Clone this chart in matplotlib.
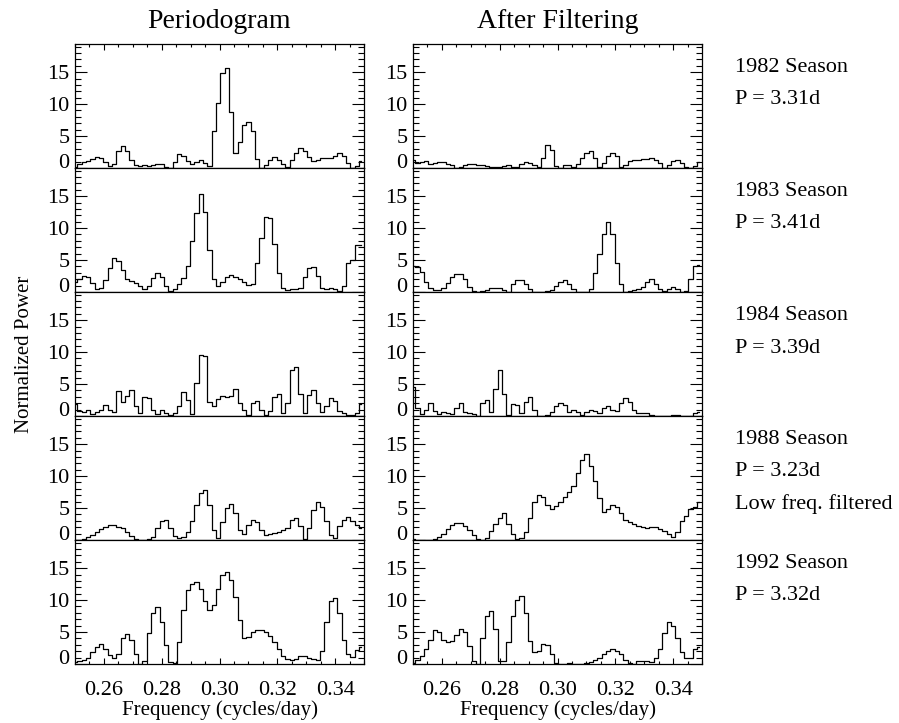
import matplotlib.pyplot as plt
import numpy as np
from matplotlib.ticker import MultipleLocator

plt.rcParams['font.family'] = ['Liberation Serif', 'DejaVu Serif']

# frequency grid of the periodograms (cycles/day)
freq = np.linspace(0.25, 0.349, 67)

# normalized power
p1982 = [0.2, 0.6, 0.9, 1.1, 1.4, 1.7, 1.6, 1.0, 0.3, 0.7, 2.6, 3.4, 2.7, 1.2, 0.5, 0.3, 0.4, 0.3, 0.5, 0.7,
         0.6, 0.2, 0.0, 0.9, 2.2, 1.9, 1.1, 0.7, 1.0, 1.3, 0.8, 0.3, 5.8, 10.2, 14.8, 15.7, 8.7, 2.3, 4.0, 6.8,
         7.2, 5.8, 1.4, 0.0, 0.4, 1.2, 1.7, 1.3, 0.7, 0.2, 1.2, 2.4, 3.1, 2.6, 1.7, 1.1, 1.2, 1.5, 1.6, 1.6,
         1.8, 2.3, 1.9, 0.8, 0.0, 0.3, 1.1]
p1983 = [1.6, 2.0, 2.5, 2.3, 1.4, 0.5, 0.6, 1.8, 3.8, 5.3, 4.8, 3.5, 2.0, 1.7, 1.4, 1.0, 0.5, 1.0, 2.2, 2.9,
         2.3, 1.0, 0.1, 0.4, 1.2, 2.2, 4.0, 8.0, 12.3, 15.3, 12.5, 6.5, 2.0, 0.9, 1.5, 2.4, 2.6, 2.3, 2.0, 1.6,
         1.1, 1.2, 4.5, 8.5, 11.8, 11.5, 7.5, 3.0, 0.6, 0.3, 0.4, 0.4, 0.6, 2.3, 3.8, 3.9, 2.5, 0.6, 0.4, 0.7,
         0.5, 0.2, 1.0, 4.5, 5.0, 7.3, 7.3]
p1984 = [1.8, 0.8, 0.7, 0.9, 0.3, 0.6, 1.0, 1.7, 1.0, 0.7, 3.9, 2.2, 3.2, 4.1, 1.5, 0.4, 3.0, 2.8, 1.0, 0.3,
         0.9, 0.4, 0.2, 0.4, 1.5, 3.8, 2.5, 0.3, 5.1, 9.6, 9.4, 2.2, 1.5, 2.7, 3.2, 3.0, 3.1, 4.2, 2.0, 0.9,
         0.2, 2.0, 2.4, 1.0, 0.2, 0.8, 3.0, 3.4, 0.4, 2.0, 7.2, 7.7, 3.5, 0.5, 3.3, 4.0, 2.0, 0.7, 1.6, 2.8,
         2.4, 0.8, 0.4, 0.2, 0.2, 0.5, 1.8]
p1988 = [0.0, 0.0, 0.1, 0.5, 0.8, 1.3, 1.7, 2.1, 2.3, 2.3, 2.1, 1.8, 1.2, 0.6, 0.1, 0.0, 0.0, 0.1, 0.5, 1.8,
         3.0, 3.2, 1.8, 0.7, 0.3, 0.4, 1.2, 3.0, 5.5, 7.3, 7.8, 5.5, 1.5, 0.3, 2.8, 5.0, 5.7, 4.2, 1.6, 1.0,
         2.4, 3.1, 2.8, 1.5, 0.8, 1.0, 1.1, 1.2, 1.5, 1.8, 3.2, 3.4, 2.2, 0.2, 1.8, 4.7, 6.0, 5.2, 3.0, 0.8,
         0.3, 2.2, 3.2, 3.6, 3.0, 2.3, 1.8]
p1992 = [0.3, 0.5, 0.6, 0.9, 1.8, 2.7, 3.1, 2.3, 1.4, 0.9, 1.6, 4.0, 4.7, 3.8, 1.5, 0.0, 0.4, 4.8, 8.0, 8.9,
         6.5, 3.0, 0.3, 0.1, 3.5, 8.5, 11.5, 12.5, 12.9, 11.8, 9.8, 8.4, 9.2, 11.8, 13.9, 14.4, 13.2, 10.5, 6.9, 4.0,
         4.3, 5.0, 5.3, 5.3, 5.0, 4.4, 3.5, 2.4, 1.3, 0.8, 0.7, 0.8, 1.2, 1.3, 1.0, 0.8, 0.6, 2.0, 6.5, 9.8,
         10.4, 8.0, 3.8, 1.6, 1.1, 2.2, 2.7]

f1982 = [1.2, 0.8, 1.0, 1.1, 0.7, 0.8, 0.9, 1.0, 0.7, 0.4, 0.0, 0.2, 0.5, 0.6, 0.6, 0.5, 0.4, 0.3, 0.2, 0.1,
         0.1, 0.3, 0.4, 0.2, 0.2, 0.6, 1.0, 0.8, 0.4, 0.2, 1.5, 3.6, 2.8, 0.3, 0.0, 0.4, 0.5, 0.2, 0.7, 1.5,
         2.3, 2.6, 1.5, 0.2, 0.8, 1.8, 2.3, 1.8, 0.1, 0.5, 1.1, 1.3, 1.3, 1.4, 1.4, 1.5, 1.2, 0.8, 0.0, 0.5,
         1.1, 1.3, 0.8, 0.2, 0.0, 0.3, 1.0]
f1983 = [4.0, 3.9, 3.2, 1.5, 0.7, 0.3, 0.3, 0.6, 1.4, 2.3, 2.8, 2.8, 2.0, 0.8, 0.2, 0.0, 0.1, 0.3, 0.6, 0.7,
         0.6, 0.3, 0.0, 1.2, 1.9, 1.9, 1.3, 0.5, 0.0, 0.0, 0.0, 0.1, 0.3, 1.0, 1.6, 1.9, 1.3, 0.4, 0.0, 0.0,
         0.0, 0.5, 3.0, 6.0, 9.0, 11.0, 9.0, 4.5, 1.2, 0.0, 0.2, 0.3, 0.4, 0.8, 1.6, 2.0, 1.3, 0.5, 0.2, 0.5,
         0.8, 0.4, 0.0, 0.1, 2.0, 4.0, 4.2]
f1984 = [4.5, 1.3, 0.3, 0.9, 2.0, 0.8, 0.3, 0.6, 0.5, 0.3, 1.2, 2.0, 0.6, 0.4, 0.3, 0.0, 2.0, 2.5, 0.7, 4.3,
         7.2, 3.5, 0.1, 1.8, 1.7, 0.4, 2.2, 3.0, 1.0, 0.0, 0.0, 0.1, 0.6, 1.5, 2.0, 1.7, 0.7, 0.9, 0.7, 0.1,
         0.6, 1.0, 0.8, 0.5, 1.2, 1.5, 0.9, 0.8, 2.0, 2.8, 2.2, 0.9, 0.5, 0.4, 0.5, 0.2, 0.0, 0.0, 0.0, 0.0,
         0.2, 0.1, 0.0, 0.0, 0.0, 0.4, 0.7]
f1988 = [0.1, 0.0, 0.0, 0.0, 0.0, 0.1, 0.4, 1.0, 1.7, 2.3, 2.6, 2.6, 2.2, 1.6, 0.8, 0.2, 0.0, 0.3, 1.4, 2.5,
         3.5, 4.2, 2.5, 1.0, 0.2, 0.3, 1.2, 3.4, 6.0, 7.0, 6.8, 5.5, 4.9, 5.3, 6.0, 6.8, 7.5, 8.5, 10.5, 12.5,
         13.5, 11.5, 9.2, 6.5, 4.4, 4.9, 5.4, 5.2, 4.2, 3.2, 2.8, 2.5, 2.2, 2.1, 1.8, 2.0, 2.0, 1.7, 1.4, 1.0,
         0.5, 1.3, 2.9, 3.8, 4.8, 5.2, 6.0]
f1992 = [0.1, 0.7, 1.3, 2.3, 3.8, 5.3, 5.0, 3.8, 3.4, 3.6, 4.5, 5.4, 5.0, 2.8, 0.4, 0.0, 4.0, 7.5, 8.3, 5.5,
         0.5, 0.5, 3.5, 7.5, 10.0, 10.7, 8.0, 3.6, 1.9, 2.0, 3.2, 3.0, 1.5, 0.2, 0.0, 0.0, 0.1, 0.0, 0.0, 0.0,
         0.1, 0.3, 0.6, 1.0, 1.5, 2.0, 2.3, 2.1, 1.6, 0.7, 0.1, 0.0, 0.4, 0.5, 0.5, 0.3, 1.0, 2.4, 4.8, 6.5,
         6.0, 4.0, 1.8, 0.9, 1.0, 2.4, 2.6]

periodogram = [p1982, p1983, p1984, p1988, p1992]
filtered = [f1982, f1983, f1984, f1988, f1992]
notes = [['1982 Season', 'P = 3.31d'],
         ['1983 Season', 'P = 3.41d'],
         ['1984 Season', 'P = 3.39d'],
         ['1988 Season', 'P = 3.23d', 'Low freq. filtered'],
         ['1992 Season', 'P = 3.32d']]

W, H = 899, 723
fig = plt.figure(figsize=(W / 100, H / 100), dpi=100)

col_left = [75, 413]
col_width = 289
row_top = 44
row_height = 124


def style_axes(ax, row):
    ax.set_xlim(0.25, 0.35)
    ax.set_ylim(0, 19.4)
    ax.set_yticks([0, 5, 10, 15], labels=['0', '5', '10', '15'])
    ax.yaxis.set_minor_locator(MultipleLocator(1))
    ax.set_xticks([0.26, 0.28, 0.30, 0.32, 0.34], labels=['0.26', '0.28', '0.30', '0.32', '0.34'])
    ax.xaxis.set_minor_locator(MultipleLocator(0.005))
    ax.tick_params(axis='y', which='both', direction='in', left=True, right=True,
                   labelsize=16, pad=4)
    ax.tick_params(axis='y', which='major', length=8.6, width=0.8)
    ax.tick_params(axis='y', which='minor', length=4.5, width=0.8)
    ax.tick_params(axis='x', which='major', length=4.3, width=0.8)
    ax.tick_params(axis='x', which='minor', length=2.5, width=0.8)
    ax.tick_params(axis='x', which='both', direction='in', labelsize=16, pad=12,
                   top=(row == 0), bottom=(row == 4), labelbottom=(row == 4))
    # the zero label sits on the bottom edge of each panel
    ax.get_yticklabels()[0].set_verticalalignment('baseline')
    for s in ax.spines.values():
        s.set_linewidth(0.9)


for row in range(5):
    y0 = 1 - (row_top + row_height * (row + 1)) / H
    for col, data in enumerate([periodogram, filtered]):
        ax = fig.add_axes([col_left[col] / W, y0, col_width / W, row_height / H])
        ax.step(freq, data[row], where='mid', color='black', lw=0.9)
        style_axes(ax, row)
    for k, line in enumerate(notes[row]):
        fig.text(735 / W, 1 - (row_top + row_height * row + 24 + 32 * k) / H, line,
                 fontsize=16, va='center', ha='left')

fig.text((75 + 364) / 2 / W, 1 - 21 / H, 'Periodogram', fontsize=20, ha='center', va='center')
fig.text((413 + 702) / 2 / W, 1 - 21 / H, 'After Filtering', fontsize=20, ha='center', va='center')
fig.text(25 / W, 1 - 354 / H, 'Normalized Power', fontsize=15, rotation=90, ha='center', va='center')
fig.text((75 + 364) / 2 / W, 1 - 710 / H, 'Frequency (cycles/day)', fontsize=15, ha='center', va='center')
fig.text((413 + 702) / 2 / W, 1 - 710 / H, 'Frequency (cycles/day)', fontsize=15, ha='center', va='center')

fig.savefig('out.png', dpi=100)
